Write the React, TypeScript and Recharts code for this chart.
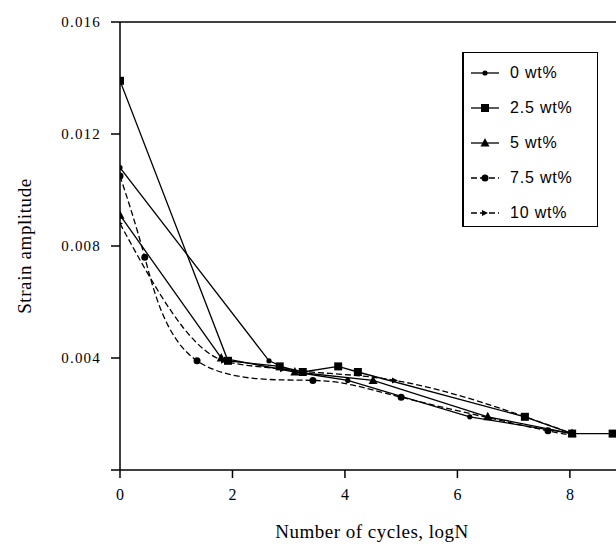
import { LineChart, Line, XAxis, YAxis, ReferenceLine } from 'recharts'

// log N values and strain amplitudes
const cycles0 = [0, 2.65, 3.11, 4.05, 6.22, 8.04]
const strain0 = [0.0108, 0.0039, 0.0035, 0.0032, 0.0019, 0.0013]

const cycles25 = [0, 1.92, 2.84, 3.25, 3.88, 4.23, 7.2, 8.04, 8.76]
const strain25 = [0.0139, 0.0039, 0.0037, 0.0035, 0.0037, 0.0035, 0.0019, 0.0013, 0.0013]

const cycles5 = [0, 1.8, 3.11, 4.5, 6.54, 8.04]
const strain5 = [0.0091, 0.004, 0.0035, 0.0032, 0.0019, 0.0013]

const cycles75 = [0, 0.44, 1.37, 3.43, 5.0, 7.61, 8.04]
const strain75 = [0.0105, 0.0076, 0.0039, 0.0032, 0.0026, 0.0014, 0.0013]

const cycles10 = [0, 1.85, 2.9, 4.89, 8.04]
const strain10 = [0.0088, 0.0039, 0.0036, 0.0032, 0.0013]

const xTicks = [0, 2, 4, 6, 8]
const yTicks = [0, 0.004, 0.008, 0.012, 0.016]

const toPoints = (xs: number[], ys: number[]) => xs.map((x, i) => ({ x, y: ys[i] }))

type Shape = 'dot' | 'square' | 'triangle' | 'bigdot' | 'small'

function Marker({ cx, cy, shape }: { cx: number; cy: number; shape: Shape }) {
  if (shape === 'square') return <rect x={cx - 4} y={cy - 4} width={8} height={8} fill="#000" />
  if (shape === 'triangle')
    return <polygon points={`${cx},${cy - 5} ${cx - 4.5},${cy + 3.5} ${cx + 4.5},${cy + 3.5}`} fill="#000" />
  if (shape === 'bigdot') return <circle cx={cx} cy={cy} r={3.5} fill="#000" />
  if (shape === 'small')
    return <polygon points={`${cx - 3},${cy - 3} ${cx + 3},${cy} ${cx - 3},${cy + 3}`} fill="#000" />
  return <circle cx={cx} cy={cy} r={2.6} fill="#000" />
}

const series = [
  { name: '0 wt%', data: toPoints(cycles0, strain0), shape: 'dot' as Shape, dash: undefined, curve: 'linear' },
  { name: '2.5 wt%', data: toPoints(cycles25, strain25), shape: 'square' as Shape, dash: undefined, curve: 'linear' },
  { name: '5 wt%', data: toPoints(cycles5, strain5), shape: 'triangle' as Shape, dash: undefined, curve: 'linear' },
  { name: '7.5 wt%', data: toPoints(cycles75, strain75), shape: 'bigdot' as Shape, dash: '6 3', curve: 'natural' },
  { name: '10 wt%', data: toPoints(cycles10, strain10), shape: 'small' as Shape, dash: '6 3', curve: 'monotone' },
]

const serif = 'Liberation Serif, Times New Roman, serif'

function YLabel({ viewBox }: any) {
  const x = (viewBox?.x ?? 0) + 24
  const y = (viewBox?.y ?? 22) + (viewBox?.height ?? 448) / 2
  return (
    <text x={x} y={y} transform={`rotate(-90 ${x} ${y})`} textAnchor="middle" dominantBaseline="central"
      fontFamily={serif} fontSize={19} letterSpacing={0.6} fill="#000">
      Strain amplitude
    </text>
  )
}

function XLabel({ viewBox }: any) {
  const x = (viewBox?.x ?? 120) + (viewBox?.width ?? 496) / 2 + 4
  const y = (viewBox?.y ?? 470) + 61
  return (
    <text x={x} y={y} textAnchor="middle" dominantBaseline="central"
      fontFamily={serif} fontSize={19} letterSpacing={0.5} fill="#000">
      Number of cycles, logN
    </text>
  )
}

function ChartLegend() {
  return (
    <div style={{
      position: 'absolute', left: 462, top: 52, width: 133, height: 171,
      border: '1.5px solid #000', borderLeftWidth: 2, background: '#fff', paddingTop: 2, boxSizing: 'content-box',
    }}>
      {series.map((s) => (
        <div key={s.name} style={{ display: 'flex', alignItems: 'center', height: 35 }}>
          <svg width={30} height={12} style={{ marginLeft: 7 }}>
            <line x1={0} y1={6} x2={28} y2={6} stroke="#000" strokeWidth={1.3} strokeDasharray={s.dash} />
            <Marker cx={14} cy={6} shape={s.shape} />
          </svg>
          <span style={{ marginLeft: 9, fontFamily: 'Liberation Sans, Arial, sans-serif', fontSize: 16, letterSpacing: 0.8, color: '#000' }}>
            {s.name}
          </span>
        </div>
      ))}
    </div>
  )
}

export default function App() {
  return (
    <div style={{ position: 'fixed', left: 0, top: 0, width: 616, height: 544, background: '#fff' }}>
      <LineChart width={616} height={544} margin={{ top: 22, right: 0, bottom: 0, left: 0 }}>
        <XAxis
          dataKey="x"
          type="number"
          domain={[0, 8.82]}
          ticks={xTicks}
          allowDataOverflow
          height={74}
          tickSize={8}
          tickMargin={11}
          axisLine={{ stroke: '#000', strokeWidth: 1.5 }}
          tickLine={{ stroke: '#000', strokeWidth: 1.5 }}
          tick={{ fontFamily: serif, fontSize: 16, fill: '#000' }}
          label={<XLabel />}
        />
        <YAxis
          dataKey="y"
          type="number"
          domain={[0, 0.016]}
          ticks={yTicks}
          width={120}
          tickSize={9}
          tickMargin={10}
          tickFormatter={(v: number) => (v === 0 ? '' : v.toFixed(3))}
          axisLine={{ stroke: '#000', strokeWidth: 1.5 }}
          tickLine={{ stroke: '#000', strokeWidth: 1.5 }}
          tick={{ fontFamily: serif, fontSize: 15, fill: '#000', letterSpacing: 1.2 }}
          label={<YLabel />}
        />
        <ReferenceLine y={0.016} stroke="#000" strokeWidth={1.5} />
        {series.map((s) => (
          <Line
            key={s.name}
            data={s.data}
            dataKey="y"
            name={s.name}
            type={s.curve as any}
            stroke="#000"
            strokeWidth={1.3}
            strokeDasharray={s.dash}
            isAnimationActive={false}
            dot={(p: any) => <Marker key={`${s.name}-${p.index}`} cx={p.cx} cy={p.cy} shape={s.shape} />}
            activeDot={false}
          />
        ))}
      </LineChart>
      <ChartLegend />
    </div>
  )
}
